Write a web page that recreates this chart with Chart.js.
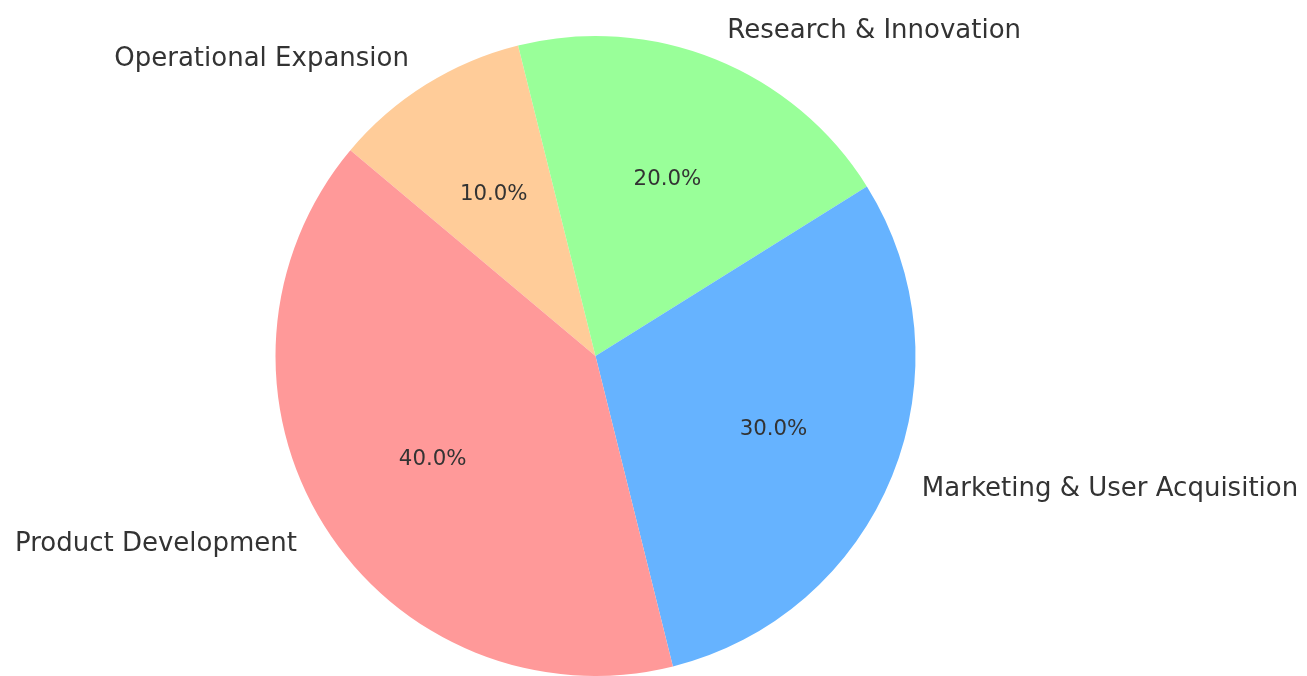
<!DOCTYPE html>
<html>
<head>
<meta charset="utf-8">
<script src="https://cdn.jsdelivr.net/npm/chart.js@4"></script>
<style>
  html, body { margin: 0; padding: 0; background: #ffffff; }
  #wrap { width: 1307px; height: 676px; position: relative; }
</style>
</head>
<body>
<div id="wrap"><canvas id="pie-chart"></canvas></div>
<script>
// Budget split, listed clockwise from the upper-left edge
const categories = ['Operational Expansion', 'Research & Innovation', 'Marketing & User Acquisition', 'Product Development'];
const shares = [10, 20, 30, 40];
const sliceColors = ['#ffcc99', '#99ff99', '#66b3ff', '#ff9999'];

// draws category names outside and percentages inside, like matplotlib autopct
const sliceLabels = {
    id: 'sliceLabels',
    afterDraw(chart) {
        const ctx = chart.ctx;
        const meta = chart.getDatasetMeta(0);
        const total = shares.reduce((a, b) => a + b, 0);
        ctx.save();
        ctx.fillStyle = '#333333';
        ctx.textBaseline = 'middle';
        meta.data.forEach((arc, i) => {
            const { x, y, startAngle, endAngle, outerRadius } = arc.getProps(['x', 'y', 'startAngle', 'endAngle', 'outerRadius'], true);
            const mid = (startAngle + endAngle) / 2;
            const cos = Math.cos(mid);
            const sin = Math.sin(mid);

            ctx.font = '26px "DejaVu Sans"';
            ctx.textAlign = cos >= 0 ? 'left' : 'right';
            ctx.fillText(categories[i], x + cos * outerRadius * 1.1, y + sin * outerRadius * 1.1 + 1.5);

            ctx.font = '21.3px "DejaVu Sans"';
            ctx.textAlign = 'center';
            const pct = (shares[i] / total * 100).toFixed(1) + '%';
            ctx.fillText(pct, x + cos * outerRadius * 0.6, y + sin * outerRadius * 0.6 + 1.5);
        });
        ctx.restore();
    }
};

new Chart(document.getElementById('pie-chart').getContext('2d'), {
    type: 'pie',
    data: {
        labels: categories,
        datasets: [{
            data: shares,
            backgroundColor: sliceColors,
            borderWidth: 0
        }]
    },
    options: {
        responsive: true,
        maintainAspectRatio: false,
        animation: false,
        rotation: -50,
        layout: { padding: { left: 275, right: 391, top: 36, bottom: 0 } },
        plugins: {
            legend: { display: false },
            tooltip: { enabled: false }
        }
    },
    plugins: [sliceLabels]
});
</script>
</body>
</html>
